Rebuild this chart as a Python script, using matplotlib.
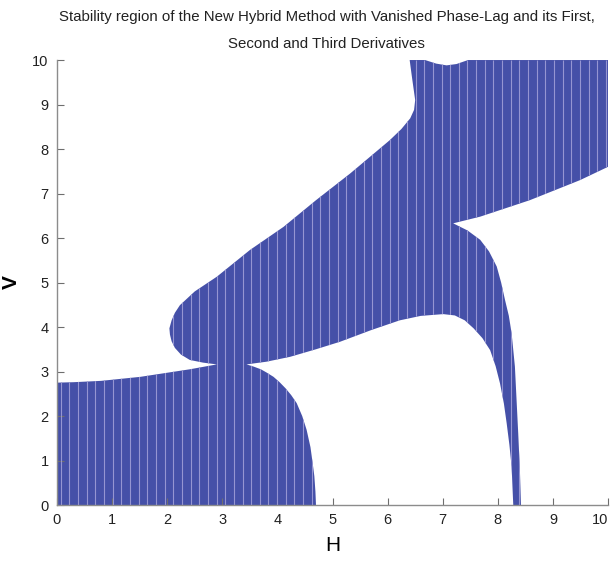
import numpy as np
import matplotlib
matplotlib.use("Agg")
import matplotlib.pyplot as plt
from matplotlib.patches import Polygon

# boundary of the stability region (H, V), traced clockwise
H_pts = [0.0, 4.70, 4.69, 4.67, 4.64, 4.60, 4.53, 4.45, 4.35, 4.25, 4.15, 4.04, 3.93, 3.80, 3.70, 3.57, 3.44,
         3.80, 4.23, 4.70, 5.14, 5.70, 6.22, 6.60, 7.01, 7.22, 7.40, 7.56, 7.72, 7.86,
         7.96, 8.04, 8.11, 8.16, 8.21, 8.25, 8.28,
         8.42, 8.41, 8.40, 8.37, 8.34, 8.31, 8.25, 8.20, 8.13, 8.06, 7.98, 7.84, 7.68, 7.45, 7.19,
         7.68, 8.58, 9.49, 10.0,
         10.0, 7.46, 7.25, 7.07, 6.88, 6.68, 6.40,
         6.44, 6.50, 6.48, 6.41, 6.25, 6.04, 5.32, 4.70, 4.11, 3.50, 2.90, 2.50, 2.23, 2.14, 2.08,
         2.04, 2.05, 2.08, 2.14, 2.25, 2.41, 2.65, 2.90,
         2.41, 1.51, 0.80, 0.30, 0.0]
V_pts = [0.0, 0.0, 0.30, 0.65, 0.94, 1.30, 1.69, 2.00, 2.29, 2.47, 2.62, 2.76, 2.88, 2.98, 3.05, 3.11, 3.16,
         3.22, 3.33, 3.50, 3.67, 3.93, 4.15, 4.25, 4.29, 4.26, 4.15, 3.97, 3.75, 3.48,
         3.12, 2.73, 2.28, 1.84, 1.35, 0.86, 0.0,
         0.0, 0.40, 0.80, 1.61, 2.36, 3.11, 3.86, 4.25, 4.61, 5.00, 5.36, 5.70, 5.96, 6.17, 6.33,
         6.48, 6.85, 7.30, 7.60,
         10.0, 10.0, 9.91, 9.88, 9.92, 10.0, 10.0,
         9.63, 9.10, 8.88, 8.69, 8.45, 8.20, 7.45, 6.85, 6.25, 5.73, 5.13, 4.80, 4.49, 4.32, 4.15,
         3.97, 3.83, 3.68, 3.53, 3.38, 3.26, 3.20, 3.16,
         3.05, 2.88, 2.79, 2.76, 2.75]

title = "Stability region of the New Hybrid Method with Vanished Phase-Lag and its First,\nSecond and Third Derivatives"

fig = plt.figure(figsize=(6.14, 5.61), dpi=100)
ax = fig.add_axes([0.0928, 0.0998, 0.8975, 0.7932])

region = Polygon(np.column_stack([H_pts, V_pts]), closed=True,
                 facecolor="#4550a8", edgecolor="none")
ax.add_patch(region)

# light vertical stripes inside the region
stripes = ax.vlines(np.arange(0.07, 10, 0.157), 0, 10, colors="#9595d2", linewidth=0.8)
stripes.set_clip_path(region)

ax.set_xlim(0, 10)
ax.set_ylim(0, 10)
ax.set_xticks(range(0, 11))
ax.set_yticks(range(0, 11))
for s in ["top", "right"]:
    ax.spines[s].set_visible(False)
for s in ["left", "bottom"]:
    ax.spines[s].set_color("#8c8c8c")
    ax.spines[s].set_linewidth(1.0)
ax.tick_params(direction="in", length=5, color="#6e6e6e", labelsize=10.5, pad=6)
for lab in ax.get_xticklabels() + ax.get_yticklabels():
    lab.set_fontfamily("Liberation Sans")
    lab.set_color("#222222")
# keep the last x label inside the figure
ax.get_xticklabels()[-1].set_horizontalalignment("right")

ax.set_xlabel("H", fontsize=15, fontfamily="Liberation Sans", labelpad=6)
ax.set_ylabel("V", fontsize=15, fontweight="bold", fontfamily="Liberation Sans", labelpad=8)
fig.text(0.532, 0.982, title, ha="center", va="top", fontsize=10.8,
         fontfamily="Liberation Sans", linespacing=2.15, color="#222222")

fig.savefig("out.png", dpi=100)
